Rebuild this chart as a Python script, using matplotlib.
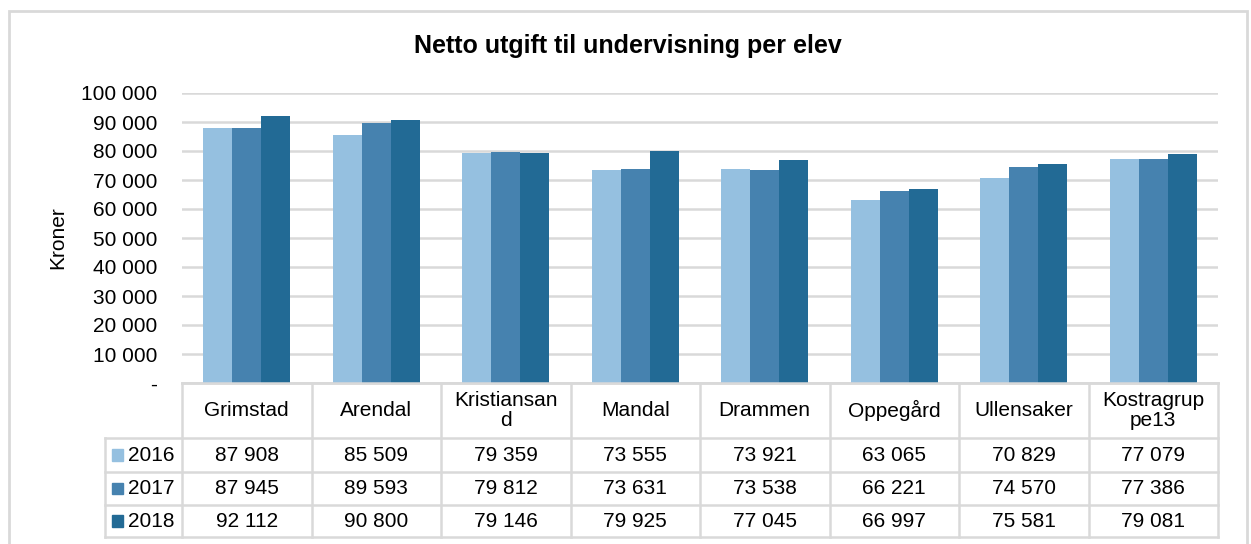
import matplotlib
matplotlib.use("Agg")
import matplotlib.pyplot as plt
from matplotlib.patches import Rectangle
from matplotlib.lines import Line2D
import numpy as np

plt.rcParams['font.family'] = ['Liberation Sans', 'DejaVu Sans']

title = "Netto utgift til undervisning per elev"
categories = ["Grimstad", "Arendal", "Kristiansan\nd", "Mandal", "Drammen",
              "Oppegård", "Ullensaker", "Kostragrup\npe13"]
years = ["2016", "2017", "2018"]
v2016 = [87908, 85509, 79359, 73555, 73921, 63065, 70829, 77079]
v2017 = [87945, 89593, 79812, 73631, 73538, 66221, 74570, 77386]
v2018 = [92112, 90800, 79146, 79925, 77045, 66997, 75581, 79081]
series = [v2016, v2017, v2018]
colors = ["#95C0E0", "#4682AF", "#226A95"]
yticks = [0, 10000, 20000, 30000, 40000, 50000, 60000, 70000, 80000, 90000, 100000]
ytick_labels = ["-", "10 000", "20 000", "30 000", "40 000", "50 000",
                "60 000", "70 000", "80 000", "90 000", "100 000"]

W, H = 1251, 544
fig = plt.figure(figsize=(W / 100, H / 100), dpi=100)
FS = 15
GRID = "#d9d9d9"

def fx(px):
    return px / W

def fy(py):
    return 1 - py / H

# outer border
fig.patches.append(Rectangle((fx(9), fy(560)), fx(1247) - fx(9), fy(11) - fy(560),
                             transform=fig.transFigure, fill=False,
                             edgecolor=GRID, linewidth=2))

# main axes
x0, x1 = 182, 1218
ytop, ybot = 93, 383
ax = fig.add_axes([fx(x0), fy(ybot), fx(x1) - fx(x0), fy(ytop) - fy(ybot)])
n = len(categories)
x = np.arange(n)
bw = 0.224
for i, (vals, c) in enumerate(zip(series, colors)):
    ax.bar(x + (i - 1) * bw, vals, width=bw, color=c, zorder=3, linewidth=0)
ax.set_xlim(-0.5, n - 0.5)
ax.set_ylim(0, 100000)
ax.set_yticks(yticks)
ax.set_yticklabels(ytick_labels, fontsize=FS)
ax.tick_params(axis='y', length=0, pad=18)
ax.set_xticks([])
ax.grid(axis='y', color=GRID, linewidth=1.8, zorder=0)
for s in ["top", "right", "left"]:
    ax.spines[s].set_visible(False)
ax.spines["bottom"].set_color(GRID)
ax.spines["bottom"].set_linewidth(1.8)
fig.text(fx(58), fy(238), "Kroner", fontsize=FS, rotation=90,
         ha='center', va='center')

fig.text(fx(628), fy(46), title, fontsize=18, fontweight='bold',
         ha='center', va='center')

# table axes
xl = 105
unit = (x1 - x0) / n
left_units = -0.5 - (x0 - xl) / unit
row_edges = [383, 438, 471.5, 504.5, 537]
tax = fig.add_axes([fx(xl), fy(537), fx(x1) - fx(xl), fy(383) - fy(537)])
tax.set_xlim(left_units, n - 0.5)
tax.set_ylim(537, 383)
tax.axis('off')
lw = 1.8
tax.add_line(Line2D([-0.5, n - 0.5], [row_edges[0]] * 2, color=GRID, lw=lw, clip_on=False))
for ry in row_edges[1:]:
    tax.add_line(Line2D([left_units, n - 0.5], [ry, ry], color=GRID, lw=lw, clip_on=False))
for k in range(n + 1):
    xv = -0.5 + k
    tax.add_line(Line2D([xv, xv], [row_edges[0], row_edges[-1]], color=GRID, lw=lw, clip_on=False))
tax.add_line(Line2D([left_units, left_units], [row_edges[1], row_edges[-1]], color=GRID, lw=lw, clip_on=False))

for k, cat in enumerate(categories):
    tax.text(k, (row_edges[0] + row_edges[1]) / 2, cat, ha='center', va='center',
             fontsize=FS, linespacing=1.05)
for r, (yr, vals, c) in enumerate(zip(years, series, colors)):
    yc = (row_edges[r + 1] + row_edges[r + 2]) / 2
    for k, v in enumerate(vals):
        s = f"{v:,}".replace(",", " ")
        tax.text(k, yc + 1, s, ha='center', va='center', fontsize=FS)
    sq = 11.5 / unit
    tax.add_patch(Rectangle((left_units + 6.5 / unit, yc - 5.5), sq, 11.5,
                            color=c, clip_on=False))
    tax.text(left_units + 23 / unit, yc + 1, yr, ha='left', va='center', fontsize=FS)

fig.savefig("out.png", dpi=100)
